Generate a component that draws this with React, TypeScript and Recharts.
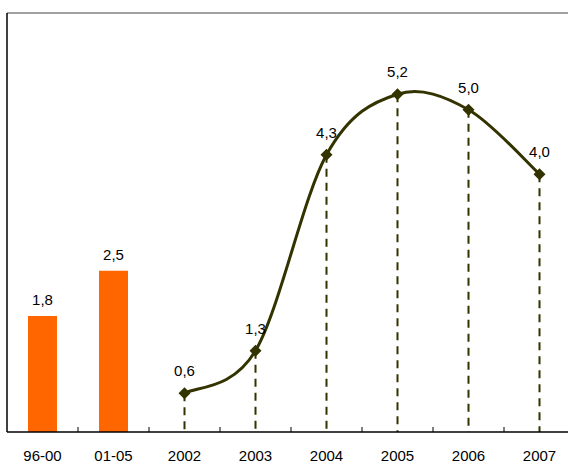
import { ComposedChart, Bar, Line, XAxis, YAxis, ReferenceLine, LabelList } from "recharts";

const categories = ["96-00", "01-05", "2002", "2003", "2004", "2005", "2006", "2007"];
const periodAverage = [1.8, 2.5, null, null, null, null, null, null];
const yearly = [null, null, 0.6, 1.26, 4.3, 5.24, 5.0, 4.0];

const ORANGE = "#FF6600";
const OLIVE = "#333300";
const FONT = "'Liberation Sans', Arial, sans-serif";

const data = categories.map((name, i) => ({
  name,
  period: periodAverage[i],
  year: yearly[i],
}));

const fmt = (v: any) => (v == null ? "" : Number(v).toFixed(1).replace(".", ","));

// smoothed line like the spreadsheet one (catmull-rom through the points)
const smoothCurve = (ctx: any) => {
  let pts: number[][] = [];
  return {
    areaStart() {},
    areaEnd() {},
    lineStart() {
      pts = [];
    },
    point(x: number, y: number) {
      pts.push([+x, +y]);
    },
    lineEnd() {
      const n = pts.length;
      if (!n) return;
      ctx.moveTo(pts[0][0], pts[0][1]);
      for (let i = 0; i < n - 1; i++) {
        const p0 = pts[Math.max(i - 1, 0)];
        const p1 = pts[i];
        const p2 = pts[i + 1];
        const p3 = pts[Math.min(i + 2, n - 1)];
        ctx.bezierCurveTo(
          p1[0] + (p2[0] - p0[0]) / 6,
          p1[1] + (p2[1] - p0[1]) / 6,
          p2[0] - (p3[0] - p1[0]) / 6,
          p2[1] - (p3[1] - p1[1]) / 6,
          p2[0],
          p2[1]
        );
      }
    },
  };
};

const Diamond = (props: any) => {
  const { cx, cy, index } = props;
  if (cx == null || cy == null) return <g key={index} />;
  const r = 6;
  return (
    <path
      key={index}
      d={`M${cx},${cy - r}L${cx + r},${cy}L${cx},${cy + r}L${cx - r},${cy}Z`}
      fill={OLIVE}
    />
  );
};

const DropLine = (props: any) => {
  const { x, y, width, height } = props;
  if (!height) return <g />;
  const cx = x + width / 2;
  return (
    <line x1={cx} y1={y} x2={cx} y2={y + height} stroke={OLIVE} strokeWidth={2} strokeDasharray="8 6" />
  );
};

const CategoryTick = (props: any) => {
  const { x, y, payload, index, width } = props;
  const half = width / categories.length / 2;
  return (
    <g>
      {index > 0 && <line x1={x - half} y1={y} x2={x - half} y2={y - 5} stroke="#000" strokeWidth={1} />}
      <text x={x} y={y} dy={29} textAnchor="middle" fill="#000" fontSize={15} fontFamily={FONT}>
        {payload.value}
      </text>
    </g>
  );
};

export default function App() {
  return (
    <div style={{ position: "absolute", left: 0, top: 0, width: 568, height: 464, overflow: "hidden", background: "#fff" }}>
      <ComposedChart width={576} height={464} data={data} margin={{ top: 13, right: 1, left: 6, bottom: 0 }}>
        <XAxis
          dataKey="name"
          height={32}
          interval={0}
          tickSize={0}
          tickMargin={0}
          tickLine={false}
          axisLine={{ stroke: "#000", strokeWidth: 1.5 }}
          tick={<CategoryTick />}
        />
        <YAxis
          width={1}
          domain={[0, 6.5]}
          ticks={[0, 6.5]}
          tick={false}
          tickLine={false}
          axisLine={{ stroke: "#000", strokeWidth: 1.5 }}
        />
        <ReferenceLine y={6.5} stroke="#808080" strokeWidth={1.5} />
        <Bar dataKey="period" stackId="s" barSize={29} fill={ORANGE} isAnimationActive={false}>
          <LabelList dataKey="period" position="top" offset={11} formatter={fmt} fill="#000" fontSize={15} fontFamily={FONT} />
        </Bar>
        <Bar dataKey="year" stackId="s" barSize={29} shape={<DropLine />} isAnimationActive={false} />
        <Line
          dataKey="year"
          type={smoothCurve as any}
          stroke={OLIVE}
          strokeWidth={3}
          dot={<Diamond />}
          activeDot={false}
          isAnimationActive={false}
        >
          <LabelList dataKey="year" position="top" offset={17} formatter={fmt} fill="#000" fontSize={15} fontFamily={FONT} />
        </Line>
      </ComposedChart>
    </div>
  );
}
